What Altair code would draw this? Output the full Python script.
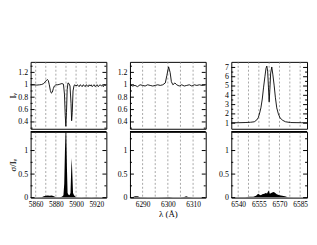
import altair as alt
import pandas as pd

# ---------------- data ----------------
# Panel 1: Na I D / He I 5876 region
na_wl = [5855, 5858, 5861, 5864, 5866, 5868, 5870, 5871.5, 5872.5, 5873.5, 5874.5, 5875.5,
         5876.5, 5877.5, 5878.5, 5880, 5882, 5884, 5886, 5887.5, 5888.5, 5889.3, 5889.9,
         5890.5, 5891.2, 5892, 5893, 5894, 5895, 5895.6, 5896.2, 5897, 5898, 5899, 5900,
         5901, 5902, 5903, 5904, 5905, 5906, 5907, 5908, 5909, 5910, 5911, 5912, 5913,
         5914, 5915, 5916, 5917, 5918, 5919, 5920, 5921, 5922, 5923, 5924, 5925, 5926,
         5927, 5928, 5929, 5930]
na_int = [1.0, 1.0, 0.995, 1.0, 1.005, 1.02, 1.06, 1.085, 1.07, 1.0, 0.91, 0.865,
          0.88, 0.94, 0.98, 1.0, 1.0, 1.01, 1.02, 1.01, 0.85, 0.5, 0.33,
          0.55, 0.92, 1.03, 1.02, 0.98, 0.7, 0.42, 0.55, 0.9, 0.99, 1.0, 0.98,
          1.0, 0.99, 0.97, 1.0, 0.99, 0.97, 1.0, 0.99, 0.97, 1.0, 0.99, 0.97, 1.0,
          0.98, 1.0, 0.97, 0.99, 1.0, 0.97, 0.99, 1.0, 0.97, 0.99, 1.0, 0.98, 0.99,
          0.97, 1.0, 0.99, 1.0]
na_sig_wl = [5855, 5860, 5866, 5868, 5870, 5872, 5874, 5876, 5878, 5880, 5884, 5886,
             5887.5, 5888.3, 5889.0, 5889.6, 5890.3, 5891.0, 5891.6, 5892.5, 5893.5,
             5894.5, 5895.2, 5895.7, 5896.3, 5897, 5898, 5899, 5900, 5905, 5910, 5915,
             5920, 5925, 5930]
na_sig = [0.005, 0.005, 0.01, 0.03, 0.04, 0.045, 0.04, 0.045, 0.03, 0.01, 0.01, 0.02,
          0.05, 0.3, 1.0, 1.4, 1.4, 0.6, 0.1, 0.06, 0.05,
          0.1, 0.6, 0.84, 0.5, 0.1, 0.05, 0.03, 0.01, 0.005, 0.01, 0.005,
          0.01, 0.005, 0.005]

# Panel 2: [O I] 6300 region
oi_wl = [6285, 6286, 6287, 6288, 6289, 6290, 6291, 6292, 6293, 6294, 6295, 6296, 6297,
         6298, 6299, 6299.6, 6300.3, 6300.9, 6301.4, 6302, 6302.8, 6303.5, 6304.5,
         6305.5, 6306.5, 6307.5, 6308.5, 6309.5, 6310.5, 6311.5, 6312.5, 6313.5, 6315]
oi_int = [1.0, 0.98, 0.99, 0.97, 1.0, 0.99, 0.98, 1.0, 0.99, 0.98, 0.99, 1.0, 0.99,
          1.0, 1.03, 1.15, 1.29, 1.2, 1.05, 1.0, 1.03, 1.0, 0.98,
          1.0, 0.98, 0.99, 1.0, 0.98, 1.0, 0.99, 1.0, 0.99, 1.0]
oi_sig_wl = [6285, 6286, 6287, 6288, 6289, 6292, 6296, 6299, 6300.5, 6302, 6305,
             6306.5, 6307.3, 6308, 6310, 6315]
oi_sig = [0.005, 0.01, 0.03, 0.03, 0.01, 0.005, 0.005, 0.01, 0.015, 0.005, 0.005,
          0.015, 0.03, 0.015, 0.005, 0.005]

# Panel 3: H alpha region
ha_wl = [6535, 6540, 6545, 6549, 6551.7, 6553.5, 6554.6, 6555.6, 6556.5, 6557.5, 6558.4,
         6559.4, 6560.2, 6560.8, 6561.4, 6562.0, 6562.5, 6563.0, 6563.6, 6564.4, 6565.2,
         6566.1, 6567, 6568, 6569.2, 6570.4, 6572.4, 6574.4, 6578, 6582, 6586, 6590]
ha_int = [1.05, 1.05, 1.07, 1.1, 1.15, 1.35, 1.6, 2.1, 2.65, 3.6, 4.8,
          6.0, 6.9, 7.15, 6.6, 4.8, 3.3, 4.6, 6.4, 7.05, 6.2,
          5.1, 3.8, 2.65, 2.0, 1.57, 1.3, 1.15, 1.07, 1.06, 1.05, 1.05]
ha_sig_wl = [6535, 6540, 6545, 6548, 6551, 6553, 6554.5, 6555.5, 6556.5, 6557.5, 6559,
             6560, 6561, 6562, 6563, 6564, 6565.5, 6566.5, 6568, 6570, 6572, 6574,
             6576, 6580, 6585, 6590]
ha_sig = [0.005, 0.01, 0.01, 0.02, 0.02, 0.04, 0.08, 0.06, 0.05, 0.07, 0.08,
          0.1, 0.09, 0.15, 0.08, 0.1, 0.12, 0.11, 0.07, 0.05, 0.04, 0.03,
          0.01, 0.005, 0.005, 0.005]

# axes definitions
na_xdom = [5855, 5930]
na_grid = [5860, 5870, 5880, 5890, 5900, 5910, 5920]
na_xlabels = [5860, 5880, 5900, 5920]
oi_xdom = [6285, 6315]
oi_grid = [6290, 6295, 6300, 6305, 6310]
oi_xlabels = [6290, 6300, 6310]
ha_xdom = [6535, 6590]
ha_grid = [6540, 6547.5, 6555, 6562.5, 6570, 6577.5, 6585]
ha_xlabels = [6540, 6555, 6570, 6585]

int_dom = [0.29, 1.37]
int_major = [0.4, 0.6, 0.8, 1, 1.2]
int_minor = [0.3, 0.5, 0.7, 0.9, 1.1, 1.3]
ha_dom = [0.4, 7.6]
ha_major = [1, 2, 3, 4, 5, 6, 7]
ha_minor = [1.5, 2.5, 3.5, 4.5, 5.5, 6.5]
sig_dom = [0, 1.4]
sig_major = [0, 0.5, 1]
sig_minor = [0.25, 0.75, 1.25]

FONT = "Liberation Serif"
W = 77
HT = 68
HB = 67

LABEL_STYLE = dict(labelFont=FONT, labelColor="black", titleFont=FONT, titleColor="black",
                   titleFontWeight="normal", ticks=False, domain=False, grid=False)


def tick_layers(vals, ys, length):
    df = pd.DataFrame({"v": vals})
    base = alt.Chart(df)
    left = base.mark_rule(color="black", strokeWidth=1).encode(
        y=alt.Y("v:Q", scale=ys), x=alt.value(0), x2=alt.value(length))
    right = base.mark_rule(color="black", strokeWidth=1).encode(
        y=alt.Y("v:Q", scale=ys), x=alt.value(W), x2=alt.value(W - length))
    return [left, right]


def grid_layer(vals, xs, h):
    df = pd.DataFrame({"g": vals})
    return alt.Chart(df).mark_rule(color="#808080", strokeWidth=0.7, strokeDash=[2, 2]).encode(
        x=alt.X("g:Q", scale=xs), y=alt.value(0), y2=alt.value(h))


def panel(wl, val, swl, sval, xdom, grid, xlabels, ydom, ymajor, yminor, extent,
          ytitle_top=None, ytitle_bot=None, xtitle=None):
    xs = alt.Scale(domain=xdom, nice=False, zero=False)
    yts = alt.Scale(domain=ydom, nice=False, zero=False)
    ybs = alt.Scale(domain=sig_dom, nice=False, zero=False)

    tdf = pd.DataFrame({"wl": wl, "val": val})
    line = alt.Chart(tdf).mark_line(color="black", strokeWidth=0.9, clip=True).encode(
        x=alt.X("wl:Q", scale=xs),
        y=alt.Y("val:Q", scale=yts))
    top = alt.layer(grid_layer(grid, xs, HT), line,
                    *tick_layers(ymajor, yts, 4), *tick_layers(yminor, yts, 2)
                    ).properties(width=W, height=HT).encode(
        x=alt.X("wl:Q", scale=xs, axis=None),
        y=alt.Y("val:Q", scale=yts, axis=alt.Axis(
            values=ymajor, format="~g", labelPadding=3, labelFontSize=8,
            titleFontSize=9, titlePadding=1, minExtent=extent, maxExtent=extent,
            title=ytitle_top, **LABEL_STYLE)))

    bdf = pd.DataFrame({"wl": swl, "sig": sval})
    area = alt.Chart(bdf).mark_area(color="black", clip=True).encode(
        x=alt.X("wl:Q", scale=xs),
        y=alt.Y("sig:Q", scale=ybs))
    divider = alt.Chart(pd.DataFrame({"d": [0]})).mark_rule(color="black", strokeWidth=1.5).encode(
        x=alt.value(0), x2=alt.value(W), y=alt.value(0))
    bot = alt.layer(grid_layer(grid, xs, HB), area, divider,
                    *tick_layers(sig_major, ybs, 4), *tick_layers(sig_minor, ybs, 2)
                    ).properties(width=W, height=HB).encode(
        x=alt.X("wl:Q", scale=xs, axis=alt.Axis(
            values=xlabels, format="d", labelPadding=3, labelFontSize=7.5,
            titleFontSize=9, titlePadding=2, title=xtitle, **LABEL_STYLE)),
        y=alt.Y("sig:Q", scale=ybs, axis=alt.Axis(
            values=sig_major, format="~g", labelPadding=3, labelFontSize=8,
            titleFontSize=9, titlePadding=1, minExtent=extent, maxExtent=extent,
            title=ytitle_bot, **LABEL_STYLE)))
    return alt.vconcat(top, bot, spacing=0)


p1 = panel(na_wl, na_int, na_sig_wl, na_sig, na_xdom, na_grid, na_xlabels,
           int_dom, int_major, int_minor, 12, ytitle_top="Iᵥ", ytitle_bot="σ/Iᵥ")
p2 = panel(oi_wl, oi_int, oi_sig_wl, oi_sig, oi_xdom, oi_grid, oi_xlabels,
           int_dom, int_major, int_minor, 15.5, xtitle="λ (Å)")
p3 = panel(ha_wl, ha_int, ha_sig_wl, ha_sig, ha_xdom, ha_grid, ha_xlabels,
           ha_dom, ha_major, ha_minor, 17.5)

chart = alt.hconcat(p1, p2, p3, spacing=6).properties(
    padding={"left": 0, "top": 52, "right": 0, "bottom": 0}, background="white"
).configure_view(stroke="black", strokeWidth=1)

chart.save("out.html", embed_options={"renderer": "svg", "actions": False})
